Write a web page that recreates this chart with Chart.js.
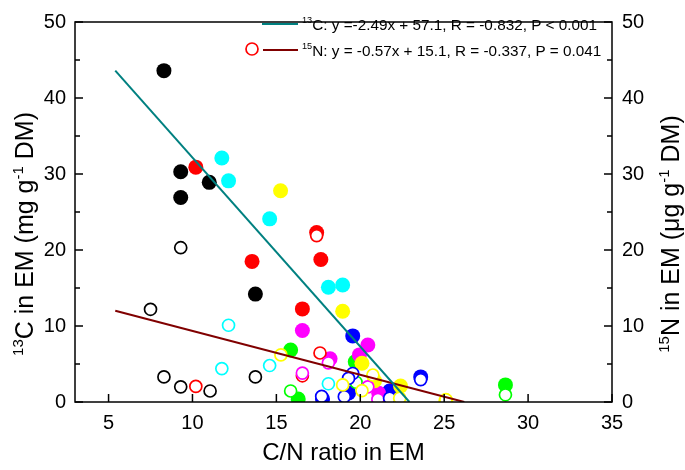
<!DOCTYPE html>
<html>
<head>
<meta charset="utf-8">
<script src="https://cdn.jsdelivr.net/npm/chart.js@4"></script>
<style>
  html, body { margin: 0; padding: 0; background: #fff; }
  #wrap { width: 685px; height: 470px; }
</style>
</head>
<body>
<div id="wrap"><canvas id="chart" width="685" height="470"></canvas></div>
<script>
// values, [C/N ratio, value]
const xTicks = [5, 10, 15, 20, 25, 30, 35];
const yTicks = [0, 10, 20, 30, 40, 50];

// filled circles: 13C (left axis)
const blackC13 = [[8.3,43.6],[9.3,30.3],[9.3,26.9],[11.0,28.9],[13.75,14.2]];
const redC13 = [[10.2,30.9],[13.55,18.5],[17.4,22.3],[17.65,18.75],[16.55,12.25]];
const cyanC13 = [[11.75,32.1],[12.15,29.1],[14.6,24.1],[18.1,15.1],[18.95,15.4]];
const yellowC13 = [[15.25,27.8],[18.95,11.95],[20.1,5.1],[20.85,2.8],[22.4,2.1],[25.1,0.15]];
const magentaC13 = [[16.55,9.4],[20.45,7.5],[19.95,6.2],[18.2,5.7],[21.1,1.15]];
const greenC13 = [[15.85,6.85],[19.7,5.3],[16.3,0.4],[28.65,2.25]];
const blueC13 = [[19.55,8.7],[17.75,0.4],[19.3,1.2],[21.75,1.45],[23.6,3.3]];

// open circles: 15N (right axis)
const blackN15 = [[9.3,20.3],[7.5,12.2],[8.3,3.3],[13.75,3.3],[9.3,2.0],[11.05,1.45]];
const redN15 = [[17.4,21.9],[17.6,6.45],[10.2,2.05],[16.55,3.45]];
const cyanN15 = [[12.15,10.1],[14.6,4.8],[11.75,4.4],[18.1,2.4]];
const yellowN15 = [[15.27,6.2],[18.95,2.25],[20.75,3.55],[20.1,1.5],[22.35,0.5],[25.1,0.3]];
const magentaN15 = [[18.1,5.15],[16.55,3.8],[20.45,2.0],[21.05,0.35]];
const greenN15 = [[15.85,1.45],[19.75,2.6],[28.65,0.95]];
const blueN15 = [[17.7,0.75],[19.05,0.7],[19.55,3.75],[19.3,3.1],[21.75,0.5],[23.6,2.95]];

// regression lines, end points
const fitC13 = [[5.4,43.6],[22.93,0]];
const fitN15 = [[5.4,12.0],[26.2,0]];

const legendC13 = ['13', 'C: y =-2.49x + 57.1, R = -0.832, P < 0.001'];
const legendN15 = ['15', 'N: y = -0.57x + 15.1, R = -0.337, P = 0.041'];

const FONT = '"Liberation Sans", Arial, sans-serif';

function pts(arr){ return arr.map(p => ({x: p[0], y: p[1]})) }

function filled(arr, color){
    return { type: 'scatter', data: pts(arr), yAxisID: 'y',
        pointRadius: 7.5, pointHoverRadius: 7.5, pointBorderWidth: 0,
        backgroundColor: color, borderColor: color }
}
function open(arr, color){
    return { type: 'scatter', data: pts(arr), yAxisID: 'y2',
        pointRadius: 6, pointHoverRadius: 6, pointBorderWidth: 1.7,
        backgroundColor: '#fff', borderColor: color }
}
function fit(arr, color, axis){
    return { type: 'line', data: pts(arr), yAxisID: axis,
        borderColor: color, borderWidth: 2, pointRadius: 0, fill: false }
}

// text with superscripts
function rich(ctx, parts, x, y, size, center){
    let w = 0;
    parts.forEach(p => {
        ctx.font = (p.sup ? size * 0.6 : size) + 'px ' + FONT;
        p.w = ctx.measureText(p.t).width;
        w += p.w;
    })
    let cx = center ? x - w / 2 : x;
    ctx.textAlign = 'left';
    ctx.textBaseline = 'alphabetic';
    parts.forEach(p => {
        ctx.font = (p.sup ? size * 0.6 : size) + 'px ' + FONT;
        ctx.fillText(p.t, cx, p.sup ? y - size * 0.4 : y);
        cx += p.w;
    })
}

const decor = {
    id: 'decor',
    afterDatasetsDraw(chart){
        const ctx = chart.ctx;
        const a = chart.chartArea;
        const sx = chart.scales.x, sy = chart.scales.y, sy2 = chart.scales.y2;
        ctx.save();
        ctx.strokeStyle = '#000';
        ctx.lineWidth = 1.5;
        ctx.strokeRect(a.left, a.top, a.right - a.left, a.bottom - a.top);
        ctx.beginPath();
        xTicks.forEach(v => {
            const px = sx.getPixelForValue(v);
            ctx.moveTo(px, a.bottom); ctx.lineTo(px, a.bottom - 8);
        })
        for (let v = 0; v <= 50; v += 5){
            const len = v % 10 === 0 ? 8 : 5;
            const py = sy.getPixelForValue(v);
            ctx.moveTo(a.left, py); ctx.lineTo(a.left + len, py);
            const py2 = sy2.getPixelForValue(v);
            ctx.moveTo(a.right, py2); ctx.lineTo(a.right - len, py2);
        }
        ctx.stroke();

        // legend
        ctx.lineWidth = 2;
        ctx.strokeStyle = '#008080';
        ctx.beginPath(); ctx.moveTo(262, 24); ctx.lineTo(298, 24); ctx.stroke();
        ctx.strokeStyle = '#800000';
        ctx.beginPath(); ctx.moveTo(263, 50); ctx.lineTo(298, 50); ctx.stroke();
        ctx.strokeStyle = '#ff0000';
        ctx.lineWidth = 1.7;
        ctx.beginPath(); ctx.arc(252, 49, 6, 0, Math.PI * 2); ctx.stroke();
        ctx.fillStyle = '#000';
        rich(ctx, [{t: legendC13[0], sup: true}, {t: legendC13[1]}], 302, 29.5, 15.3, false);
        rich(ctx, [{t: legendN15[0], sup: true}, {t: legendN15[1]}], 302, 55.5, 15.3, false);

        // y axis titles
        const ts = 25;
        ctx.translate(24, 234);
        ctx.rotate(-Math.PI / 2);
        rich(ctx, [{t: '13', sup: true}, {t: 'C in EM (mg g'}, {t: '-1', sup: true}, {t: ' DM)'}], 0, ts * 0.36, ts, true);
        ctx.setTransform(1, 0, 0, 1, 0, 0);
        ctx.translate(670, 234);
        ctx.rotate(-Math.PI / 2);
        rich(ctx, [{t: '15', sup: true}, {t: 'N in EM (\u03bcg g'}, {t: '-1', sup: true}, {t: ' DM)'}], 0, ts * 0.36, ts, true);
        ctx.restore();
    }
}

const tickFont = { family: FONT, size: 20 };

new Chart(document.getElementById('chart'), {
    data: {
        datasets: [
            fit(fitC13, '#008080', 'y'),
            fit(fitN15, '#800000', 'y2'),
            open(yellowN15, '#ffff00'),
            open(blueN15, '#0000ff'),
            open(magentaN15, '#ff00ff'),
            open(greenN15, '#00ff00'),
            open(cyanN15, '#00ffff'),
            open(redN15, '#ff0000'),
            open(blackN15, '#000000'),
            filled(yellowC13, '#ffff00'),
            filled(magentaC13, '#ff00ff'),
            filled(blueC13, '#0000ff'),
            filled(greenC13, '#00ff00'),
            filled(cyanC13, '#00ffff'),
            filled(redC13, '#ff0000'),
            filled(blackC13, '#000000')
        ]
    },
    options: {
        responsive: false,
        animation: false,
        layout: { padding: { top: 10, left: 0, right: 0, bottom: 0 } },
        plugins: { legend: { display: false }, tooltip: { enabled: false } },
        scales: {
            x: {
                type: 'linear', min: 3, max: 35,
                afterBuildTicks: s => { s.ticks = xTicks.map(v => ({value: v})) },
                grid: { display: false, drawTicks: false },
                border: { display: false },
                ticks: { font: tickFont, color: '#000', padding: 9, maxRotation: 0 },
                title: { display: true, text: 'C/N ratio in EM', color: '#000',
                    font: { family: FONT, size: 24 }, padding: { top: 0, bottom: 2 } },
                afterFit: s => { s.height = 68 }
            },
            y: {
                position: 'left', min: 0, max: 50,
                afterBuildTicks: s => { s.ticks = yTicks.map(v => ({value: v})) },
                grid: { display: false, drawTicks: false },
                border: { display: false },
                ticks: { font: tickFont, color: '#000', padding: 9 },
                afterFit: s => { s.width = 75 }
            },
            y2: {
                position: 'right', min: 0, max: 50,
                afterBuildTicks: s => { s.ticks = yTicks.map(v => ({value: v})) },
                grid: { display: false, drawTicks: false },
                border: { display: false },
                ticks: { font: tickFont, color: '#000', padding: 10 },
                afterFit: s => { s.width = 73 }
            }
        }
    },
    plugins: [decor]
})
</script>
</body>
</html>
